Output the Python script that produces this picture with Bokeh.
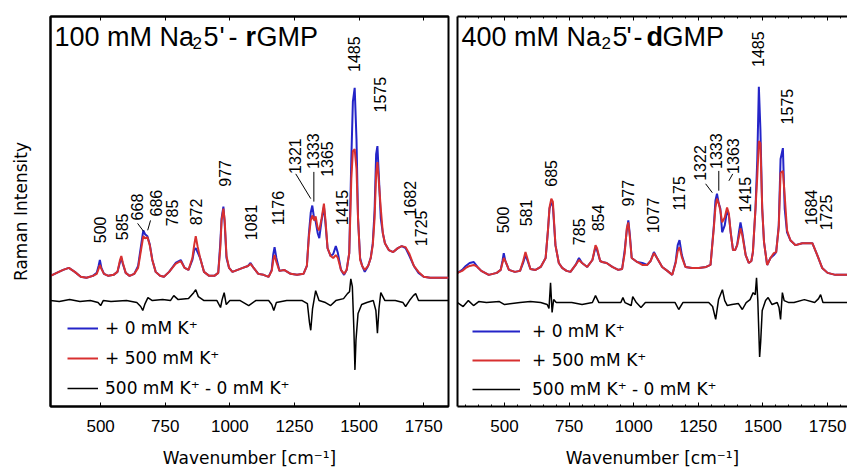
import math
from bokeh.plotting import figure
from bokeh.models import (Range1d, LinearAxis, FixedTicker, Legend, LegendItem,
                          Label, ColumnDataSource)
from bokeh.layouts import row
from bokeh.embed import file_html
from bokeh.resources import INLINE
from bokeh.core.properties import value

# ------------------------------------------------------------------ data
x_ticks = [500, 750, 1000, 1250, 1500, 1750]
minor_ticks = [350, 400, 450, 550, 600, 650, 700, 800, 850, 900, 950, 1050, 1100,
               1150, 1200, 1300, 1350, 1400, 1450, 1550, 1600, 1650, 1700, 1800]

legend_labels = ["+ 0 mM K\u207a", "+ 500 mM K\u207a", "500 mM K\u207a - 0 mM K\u207a"]

# --- left panel: 100 mM Na2 5'-rGMP
r_wn = [306, 330, 355, 377, 400, 423, 445, 470, 485, 492,
        497, 503, 513, 530, 550, 565, 575, 580, 586, 597,
        612, 630, 645, 655, 665, 672, 681, 690, 700, 713,
        730, 745, 765, 790, 810, 825, 840, 855, 862, 868,
        875, 885, 900, 920, 940, 955, 963, 968, 975, 980,
        987, 997, 1010, 1030, 1050, 1070, 1080, 1092, 1110, 1130,
        1150, 1162, 1168, 1173, 1180, 1192, 1210, 1235, 1260, 1285,
        1298, 1306, 1313, 1319, 1326, 1332, 1340, 1346, 1355, 1364,
        1370, 1378, 1390, 1400, 1410, 1418, 1430, 1442, 1452, 1462,
        1470, 1476, 1483, 1490, 1496, 1504, 1512, 1522, 1535, 1545,
        1553, 1560, 1566, 1571, 1577, 1584, 1592, 1600, 1615, 1632,
        1650, 1665, 1680, 1695, 1712, 1730, 1750, 1775, 1800, 1846]
r_k0 = [2, 5, 8, 10, 6, 1, 0, 2, 5, 12,
        18, 10, 4, 2, 3, 6, 16, 20, 14, 5,
        2, 4, 12, 30, 48, 44, 42, 34, 18, 6,
        2, 1, 6, 15, 18, 10, 8, 18, 28, 30,
        26, 20, 6, 2, 2, 5, 35, 60, 72, 55,
        20, 10, 6, 8, 10, 12, 15, 10, 4, 3,
        1, 8, 24, 31, 20, 7, 8, 4, 3, 4,
        12, 45, 66, 73, 60, 57, 45, 40, 58, 72,
        55, 30, 22, 24, 32, 25, 8, 3, 8, 25,
        120, 178, 192, 140, 60, 20, 12, 6, 12, 20,
        35, 68, 125, 133, 100, 60, 45, 35, 28, 26,
        30, 32, 30, 22, 12, 5, 1, 0, 0, 0]
r_k500 = [2, 5, 8, 10, 6, 1, 0, 2, 4, 9,
          13, 9, 4, 2, 3, 6, 18, 22, 15, 5,
          2, 4, 10, 26, 42, 40, 41, 33, 18, 6,
          2, 1, 6, 14, 17, 10, 8, 20, 33, 42,
          32, 20, 6, 2, 2, 5, 30, 58, 70, 58,
          22, 10, 6, 8, 10, 12, 14, 10, 4, 3,
          1, 7, 18, 23, 16, 7, 8, 4, 3, 4,
          12, 42, 58, 63, 58, 62, 50, 48, 60, 75,
          58, 30, 22, 20, 23, 20, 8, 4, 8, 25,
          100, 128, 130, 110, 60, 18, 12, 8, 12, 20,
          33, 60, 105, 117, 95, 70, 45, 35, 28, 26,
          30, 32, 31, 24, 12, 6, 1, 0, 0, 0]
r_dwn = [306, 340, 380, 420, 460, 490, 500, 510, 540, 600,
         640, 655, 663, 672, 683, 700, 740, 770, 783, 800,
         840, 860, 868, 878, 900, 950, 964, 970, 978, 986,
         1000, 1040, 1073, 1100, 1150, 1162, 1170, 1180, 1220, 1280,
         1300, 1308, 1313, 1320, 1332, 1345, 1370, 1390, 1410, 1440,
         1455, 1463, 1468, 1474, 1480, 1484, 1488, 1496, 1510, 1530,
         1555, 1565, 1571, 1577, 1584, 1600, 1640, 1670, 1680, 1695,
         1710, 1719, 1730, 1780, 1846]
r_diff = [0, -1, 1, -1, 0, -2, -5, 0, -1, 0,
          -2, -6, -10, -3, 3, 0, 1, 0, 5, 1,
          2, 8, 11, 4, 0, 0, -7, 1, 8, -4,
          0, 0, -5, 0, 0, -4, -10, -2, 0, 0,
          -3, -22, -30, -8, 10, 0, -2, -5, 0, 2,
          7, 9, 22, 14, -30, -70, -40, -13, -4, -2,
          0, -10, -33, -8, 8, 0, 0, -2, -6, 0,
          5, 7, 0, 0, 0]
r_peak_text = ["500", "585", "668", "686", "785", "872", "977", "1081", "1176",
               "1321", "1333", "1365", "1415", "1485", "1575", "1682", "1725"]
r_peak_x = [497, 583, 642, 713, 775, 868, 980, 1083, 1185,
            1251, 1322, 1377, 1433, 1480, 1580, 1696, 1738]
r_peak_y = [35, 38, 58, 62, 52, 53, 92, 38, 53,
            105, 110, 102, 53, 208, 167, 62, 32]
r_lead_xs = [[643, 666], [693, 682], [1255, 1313], [1325, 1325]]
r_lead_ys = [[55, 47], [58, 48], [105, 80], [107, 77]]

# --- right panel: 400 mM Na2 5'-dGMP
d_wn = [318, 336, 350, 365, 381, 395, 410, 439, 470, 485,
        492, 497, 503, 517, 540, 560, 572, 581, 588, 600,
        620, 640, 659, 668, 674, 681, 687, 692, 697, 710,
        723, 740, 755, 775, 788, 800, 820, 840, 852, 858,
        870, 878, 895, 917, 940, 955, 965, 973, 979, 985,
        992, 1013, 1033, 1052, 1065, 1078, 1090, 1110, 1130, 1149,
        1162, 1170, 1177, 1186, 1200, 1225, 1252, 1280, 1297, 1310,
        1316, 1322, 1329, 1335, 1342, 1352, 1361, 1368, 1375, 1384,
        1392, 1400, 1408, 1413, 1420, 1433, 1445, 1455, 1461, 1471,
        1478, 1484, 1490, 1497, 1504, 1516, 1529, 1542, 1551, 1561,
        1568, 1577, 1584, 1593, 1606, 1626, 1652, 1678, 1691, 1710,
        1729, 1750, 1780, 1827]
d_k0 = [2, 5, 9, 12, 13, 8, 4, 0, 2, 5,
        14, 22, 14, 5, 3, 4, 12, 20, 15, 6,
        5, 8, 17, 45, 67, 73, 70, 50, 30, 12,
        7, 4, 3, 10, 17, 12, 8, 15, 28, 25,
        14, 13, 12, 8, 5, 6, 25, 45, 55, 40,
        17, 13, 12, 10, 14, 23, 17, 8, 4, 0,
        13, 30, 35, 20, 8, 7, 7, 8, 10, 50,
        75, 82, 72, 67, 43, 50, 65, 60, 43, 25,
        25, 30, 45, 53, 43, 20, 12, 14, 23, 67,
        117, 190, 147, 67, 33, 10, 17, 20, 23, 50,
        117, 128, 67, 43, 35, 30, 32, 32, 32, 20,
        7, 2, 0, 0]
d_k500 = [2, 4, 7, 9, 10, 8, 4, 0, 2, 5,
          12, 17, 14, 5, 3, 4, 14, 23, 17, 6,
          5, 8, 17, 45, 68, 77, 74, 52, 30, 12,
          7, 4, 3, 10, 15, 12, 8, 15, 30, 27,
          14, 13, 12, 8, 5, 6, 22, 47, 53, 38,
          17, 13, 10, 10, 14, 22, 17, 8, 4, 0,
          12, 24, 28, 18, 8, 7, 7, 8, 10, 48,
          68, 77, 72, 65, 53, 58, 68, 62, 43, 25,
          25, 30, 40, 47, 40, 20, 12, 14, 23, 67,
          100, 135, 133, 67, 33, 10, 17, 22, 23, 48,
          103, 105, 80, 45, 35, 30, 32, 32, 32, 20,
          7, 2, 0, 0]
d_dwn = [318, 340, 360, 380, 400, 430, 480, 500, 560, 600,
         640, 665, 672, 678, 684, 690, 700, 760, 800, 840,
         852, 865, 900, 950, 958, 966, 990, 996, 1010, 1028,
         1045, 1100, 1160, 1174, 1190, 1250, 1290, 1305, 1317, 1328,
         1343, 1352, 1362, 1380, 1405, 1420, 1435, 1450, 1462, 1470,
         1475, 1480, 1487, 1491, 1497, 1510, 1520, 1535, 1555, 1562,
         1568, 1575, 1582, 1600, 1620, 1660, 1700, 1715, 1723, 1732,
         1780, 1827]
d_diff = [0, -4, 2, -3, 1, 0, 1, -2, 0, 1,
          0, -2, -6, 20, -10, 3, 0, 0, -2, 0,
          7, 0, 0, 0, 5, 0, -3, 6, 0, -5,
          0, 0, 0, -7, 0, 0, 0, -4, -17, 3,
          13, 2, -3, -2, -1, -7, 0, 3, 10, 8,
          25, 2, -55, -40, -8, 2, 5, -2, 0, -5,
          -17, 10, 2, 0, 0, 3, 0, 4, 8, 0,
          0, 0]
d_peak_text = ["500", "581", "685", "785", "854", "977", "1077", "1175",
               "1322", "1333", "1363", "1415", "1485", "1575", "1684", "1725"]
d_peak_x = [493, 584, 681, 790, 861, 977, 1074, 1175,
            1255, 1319, 1383, 1429, 1481, 1591, 1687, 1742]
d_peak_y = [42, 49, 89, 30, 44, 69, 42, 65,
            95, 107, 102, 63, 210, 152, 50, 45]
d_lead_xs = [[1278, 1304], [1329, 1329], [1383, 1368]]
d_lead_ys = [[92, 83], [105, 85], [102, 95]]

# ------------------------------------------------------------------ style
FONT = "Liberation Sans"
LFONT = "DejaVu Sans"
BLUE = "#2424c8"
RED = "#d83030"


def panel(wn, k0, k500, dwn, diff, doff, ptext, px, py, lxs, lys, xr, yr,
          width, mbl, mbr, title_parts, leg_loc, leg_gw, leg_so, leg_sp,
          outline, minor, ylabel):
    p = figure(width=width, height=470, x_range=Range1d(*xr), y_range=Range1d(*yr),
               output_backend="svg", toolbar_location=None,
               min_border_left=mbl, min_border_right=mbr,
               min_border_top=16, min_border_bottom=60)
    p.grid.visible = False
    p.background_fill_color = "white"
    p.border_fill_color = "white"
    if outline:
        p.outline_line_color = "black"
        p.outline_line_width = 2
        p.outline_line_alpha = 1
    else:
        p.outline_line_color = None

    tick = FixedTicker(ticks=x_ticks, minor_ticks=minor_ticks if minor else [])
    xa = p.xaxis[0]
    xa.ticker = tick
    xa.major_label_text_font = FONT
    xa.major_label_text_font_size = "17px"
    xa.major_label_text_color = "black"
    xa.major_tick_in = 4
    xa.major_tick_out = 0
    xa.minor_tick_in = 2
    xa.minor_tick_out = 0
    xa.major_label_standoff = 13
    xa.axis_label = "Wavenumber [cm\u207b\u00b9]"
    xa.axis_label_text_font = LFONT
    xa.axis_label_text_font_size = "17px"
    xa.axis_label_text_font_style = "normal"
    xa.axis_label_text_color = "black"
    xa.axis_label_standoff = 13
    xa.axis_line_width = 2
    xa.axis_line_color = "black"

    top = LinearAxis(ticker=FixedTicker(ticks=x_ticks, minor_ticks=minor_ticks if minor else []),
                     major_label_text_font_size="0px", major_label_text_color=None,
                     major_label_standoff=0,
                     major_tick_in=4, major_tick_out=0, minor_tick_in=2, minor_tick_out=0,
                     axis_line_width=2, axis_line_color="black")
    p.add_layout(top, "above")

    ya = p.yaxis[0]
    ya.ticker = FixedTicker(ticks=[])
    ya.major_label_text_font_size = "0px"
    ya.major_label_text_color = None
    ya.major_label_standoff = 0
    ya.major_tick_in = 0
    ya.major_tick_out = 0
    ya.minor_tick_in = 0
    ya.minor_tick_out = 0
    ya.axis_line_width = 2
    ya.axis_line_color = "black"
    if ylabel:
        ya.axis_label = ylabel
        ya.axis_label_text_font = LFONT
        ya.axis_label_text_font_size = "17px"
        ya.axis_label_text_font_style = "normal"
        ya.axis_label_text_color = "black"
        ya.axis_label_standoff = 20

    rb = p.line(wn, k0, line_color=BLUE, line_width=2)
    rr = p.line(wn, k500, line_color=RED, line_width=2)
    rd = p.line(dwn, [v + doff for v in diff], line_color="black", line_width=1.5)

    src = ColumnDataSource(dict(x=px, y=py, t=ptext))
    p.text(x="x", y="y", text="t", source=src, angle=math.pi / 2,
           text_align="left", text_baseline="middle",
           text_font=value(FONT), text_font_size=value("16px"), text_color="black")
    p.multi_line(lxs, lys, line_color="black", line_width=1)

    for txt, xo, size, style, yo in title_parts:
        p.add_layout(Label(x=xr[0], y=yr[1], x_units="data", y_units="data",
                           x_offset=xo, y_offset=yo, text=txt,
                           text_font=FONT, text_font_size=size, text_font_style=style,
                           text_color="black", text_align="left",
                           text_baseline="alphabetic"))

    leg = Legend(items=[LegendItem(label=legend_labels[0], renderers=[rb]),
                        LegendItem(label=legend_labels[1], renderers=[rr]),
                        LegendItem(label=legend_labels[2], renderers=[rd])],
                 location=leg_loc, glyph_width=leg_gw, glyph_height=20,
                 label_height=20, label_standoff=leg_so, spacing=leg_sp,
                 padding=0, margin=0, border_line_color=None,
                 background_fill_alpha=0, label_text_font=LFONT,
                 label_text_font_size="17px", label_text_color="black")
    p.add_layout(leg)
    return p


left_title = [("100 mM Na", 4, "27px", "normal", -20),
              ("2", 142, "17px", "normal", -26),
              ("5", 153, "27px", "normal", -20),
              ("'", 169, "27px", "normal", -20),
              ("-", 178, "27px", "normal", -20),
              ("r", 195, "27px", "bold", -20),
              ("GMP", 206, "27px", "normal", -20)]
right_title = [("400 mM Na", 4, "27px", "normal", -20),
               ("2", 144, "17px", "normal", -26),
               ("5", 155, "27px", "normal", -20),
               ("'", 169, "27px", "normal", -20),
               ("-", 176, "27px", "normal", -20),
               ("d", 189, "27px", "bold", -20),
               ("GMP", 205, "27px", "normal", -20)]

p1 = panel(r_wn, r_k0, r_k500, r_dwn, r_diff, -23, r_peak_text, r_peak_x, r_peak_y,
           r_lead_xs, r_lead_ys, (306, 1846), (-130, 264), 452, 50, 4, left_title,
           (17, 8), 31, 7, 10, True, False, "Raman Intensity")
p2 = panel(d_wn, d_k0, d_k500, d_dwn, d_diff, -28, d_peak_text, d_peak_x, d_peak_y,
           d_lead_xs, d_lead_ys, (318, 1827), (-133, 261), 395, 5, 0, right_title,
           (15, 7), 48, 12, 9, False, True, None)

layout = row(p1, p2)
open("out.html", "w").write(file_html(layout, INLINE))
